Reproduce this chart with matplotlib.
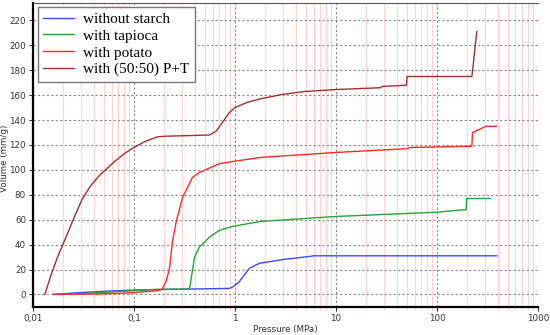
import numpy as np
import matplotlib
matplotlib.use("Agg")
import matplotlib.pyplot as plt
from matplotlib.ticker import FixedLocator, FixedFormatter, NullFormatter

# data (pressure in MPa, volume in mm/g)
labels = ["without starch", "with tapioca", "with potato", "with (50:50) P+T"]
colors = ["#3a4cf0", "#27a338", "#ff2a2a", "#a3302e"]

x_blue = [0.016, 0.03, 0.05, 0.1, 0.2, 0.5, 0.88, 0.95, 1.1, 1.39, 1.75, 3, 5.5, 6, 392]
y_blue = [0, 1.5, 2.5, 3.5, 4, 4.5, 4.8, 6, 10, 21, 25, 28, 30.5, 31, 31]

x_green = [0.016, 0.03, 0.06, 0.1, 0.16, 0.355, 0.398, 0.445, 0.56, 0.7, 0.94, 1.8, 10, 100, 158, 195, 197, 341]
y_green = [0, 0.5, 2, 3, 4, 4.3, 30, 38, 46, 51.4, 54.6, 58.6, 62.6, 66, 67.5, 68, 77, 77]

x_red = [0.016, 0.03, 0.05, 0.08, 0.12, 0.17, 0.19, 0.209, 0.225, 0.241, 0.263, 0.303, 0.38, 0.445,
         0.7, 1.0, 1.8, 10, 50, 55, 222, 225, 305, 392]
y_red = [0, 0.2, 0.5, 1, 2, 3, 4, 11, 21, 43, 59, 78, 94, 98,
         105, 107, 110, 114, 117, 118, 119, 130, 135, 135]

x_brown = [0.0131, 0.015, 0.0175, 0.02, 0.025, 0.0305, 0.037, 0.046, 0.065, 0.08, 0.1, 0.13, 0.17, 0.2,
           0.56, 0.65, 0.75, 0.88, 1.0, 1.3, 1.77, 2.94, 5, 10, 20, 28, 28.5, 50, 50.6, 222, 248]
y_brown = [0, 15, 30, 41, 60, 76, 87, 96, 107, 113, 118, 123, 126.5, 127,
           128, 131, 138, 146, 150, 154, 157, 160.6, 163, 164.5, 165.5, 166, 167, 168, 175, 175, 211]

xticks = [0.01, 0.1, 1, 10, 100, 1000]
xticklabels = ["0,01", "0,1", "1", "10", "100", "1000"]
yticks = list(range(0, 221, 20))

fig = plt.figure(figsize=(5.5, 3.35), dpi=100)
ax = fig.add_axes([0.06, 0.084, 0.918, 0.907])

ax.set_xscale("log")
ax.set_xlim(0.01, 1000)
ax.set_ylim(-10, 234)

minors = [m * 10.0 ** e for e in range(-2, 3) for m in range(2, 10)]
ax.xaxis.set_major_locator(FixedLocator(xticks))
ax.xaxis.set_major_formatter(FixedFormatter(xticklabels))
ax.xaxis.set_minor_locator(FixedLocator(minors))
ax.xaxis.set_minor_formatter(NullFormatter())
ax.set_yticks(yticks)

# grid: pale pink minor verticals, grey dashed majors
ax.grid(True, which="minor", axis="x", color="#ffd4d4", linewidth=0.8)
ax.grid(True, which="major", axis="both", color="#888888", linewidth=0.8, linestyle=(0, (2, 2)))
ax.set_axisbelow(True)

series = [(x_blue, y_blue), (x_green, y_green), (x_red, y_red), (x_brown, y_brown)]
for (xs, ys), c, lab in zip(series, colors, labels):
    ax.plot(xs, ys, color=c, linewidth=1.0, label=lab)

for s in ["left", "bottom"]:
    ax.spines[s].set_linewidth(1.6)
    ax.spines[s].set_color("black")
ax.spines["top"].set_color("#555555")
ax.spines["top"].set_linewidth(0.8)
ax.spines["right"].set_visible(False)

ax.tick_params(axis="both", which="major", labelsize=6.3, labelcolor="#333333", length=3, width=0.6, pad=2)
ax.tick_params(axis="x", which="minor", length=2, width=0.5, color="#ffb0b0")

ax.set_xlabel("Pressure (MPa)", fontsize=6.3, color="#333333")
ax.set_ylabel("Volume (mm/g)", fontsize=6.3, color="#333333")
ax.xaxis.set_label_coords(0.5, -0.06)
ax.yaxis.set_label_coords(-0.048, 0.49)

leg = ax.legend(loc="upper left", bbox_to_anchor=(0.01, 0.987), borderaxespad=0,
                prop={"family": "Liberation Serif", "size": 11},
                handlelength=2.0, handletextpad=0.6, labelspacing=0.2,
                fancybox=False, framealpha=1, edgecolor="#777777", borderpad=0.35)
leg.get_frame().set_linewidth(1.0)

fig.savefig("out.png", dpi=100)
